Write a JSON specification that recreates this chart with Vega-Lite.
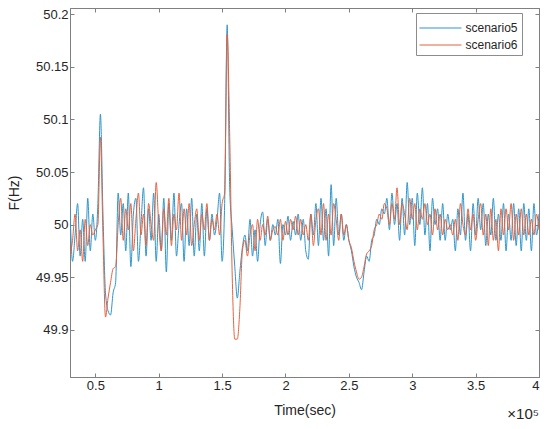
{
  "$schema": "https://vega.github.io/schema/vega-lite/v6.json",
  "width": 469,
  "height": 369,
  "autosize": "none",
  "padding": {"left": 70, "top": 8, "right": 11, "bottom": 52},
  "background": "white",
  "data": {
    "values": [
      {"time": 30000, "scenario5": 50.015, "scenario6": 49.97},
      {"time": 32000, "scenario5": 49.965, "scenario6": 49.985},
      {"time": 34000, "scenario5": 49.99, "scenario6": 50.01},
      {"time": 36000, "scenario5": 50.02, "scenario6": 49.975},
      {"time": 38000, "scenario5": 49.97, "scenario6": 49.995},
      {"time": 40000, "scenario5": 50.005, "scenario6": 49.965},
      {"time": 42000, "scenario5": 49.965, "scenario6": 50.005},
      {"time": 44000, "scenario5": 50.025, "scenario6": 49.98},
      {"time": 46000, "scenario5": 49.975, "scenario6": 50.0},
      {"time": 48000, "scenario5": 50.01, "scenario6": 49.99},
      {"time": 50000, "scenario5": 49.985, "scenario6": 49.995},
      {"time": 52000, "scenario5": 50.02, "scenario6": 50.0},
      {"time": 54000, "scenario5": 50.105, "scenario6": 50.083},
      {"time": 56000, "scenario5": 50.01, "scenario6": 49.99},
      {"time": 58000, "scenario5": 49.935, "scenario6": 49.912},
      {"time": 60000, "scenario5": 49.918, "scenario6": 49.93},
      {"time": 62000, "scenario5": 49.914, "scenario6": 49.945},
      {"time": 64000, "scenario5": 49.935, "scenario6": 49.958},
      {"time": 66000, "scenario5": 49.945, "scenario6": 49.96},
      {"time": 68000, "scenario5": 50.03, "scenario6": 50.0},
      {"time": 70000, "scenario5": 49.99, "scenario6": 50.025},
      {"time": 72000, "scenario5": 50.02, "scenario6": 49.985},
      {"time": 74000, "scenario5": 49.975, "scenario6": 50.015},
      {"time": 76000, "scenario5": 50.03, "scenario6": 49.995},
      {"time": 78000, "scenario5": 49.96, "scenario6": 50.02},
      {"time": 80000, "scenario5": 50.01, "scenario6": 49.975},
      {"time": 82000, "scenario5": 50.025, "scenario6": 50.005},
      {"time": 84000, "scenario5": 49.965, "scenario6": 50.03},
      {"time": 86000, "scenario5": 50.0, "scenario6": 49.99},
      {"time": 88000, "scenario5": 50.035, "scenario6": 50.01},
      {"time": 90000, "scenario5": 49.97, "scenario6": 49.98},
      {"time": 92000, "scenario5": 50.015, "scenario6": 50.02},
      {"time": 94000, "scenario5": 49.985, "scenario6": 50.0},
      {"time": 96000, "scenario5": 50.03, "scenario6": 49.985},
      {"time": 98000, "scenario5": 49.965, "scenario6": 50.04},
      {"time": 100000, "scenario5": 50.01, "scenario6": 50.0},
      {"time": 102000, "scenario5": 49.975, "scenario6": 49.975},
      {"time": 104000, "scenario5": 50.025, "scenario6": 50.015},
      {"time": 106000, "scenario5": 49.955, "scenario6": 49.99},
      {"time": 108000, "scenario5": 50.02, "scenario6": 50.025},
      {"time": 110000, "scenario5": 49.985, "scenario6": 49.98},
      {"time": 112000, "scenario5": 50.03, "scenario6": 50.01},
      {"time": 114000, "scenario5": 49.97, "scenario6": 49.995},
      {"time": 116000, "scenario5": 50.0, "scenario6": 50.03},
      {"time": 118000, "scenario5": 50.02, "scenario6": 49.985},
      {"time": 120000, "scenario5": 49.965, "scenario6": 50.015},
      {"time": 122000, "scenario5": 50.015, "scenario6": 49.99},
      {"time": 124000, "scenario5": 49.98, "scenario6": 50.02},
      {"time": 126000, "scenario5": 50.025, "scenario6": 49.98},
      {"time": 128000, "scenario5": 49.97, "scenario6": 50.0},
      {"time": 130000, "scenario5": 50.01, "scenario6": 50.015},
      {"time": 132000, "scenario5": 49.975, "scenario6": 49.985},
      {"time": 134000, "scenario5": 50.02, "scenario6": 50.01},
      {"time": 136000, "scenario5": 49.97, "scenario6": 49.995},
      {"time": 138000, "scenario5": 50.015, "scenario6": 50.02},
      {"time": 140000, "scenario5": 49.985, "scenario6": 49.985},
      {"time": 142000, "scenario5": 50.01, "scenario6": 50.005},
      {"time": 144000, "scenario5": 49.99, "scenario6": 49.995},
      {"time": 146000, "scenario5": 50.005, "scenario6": 50.01},
      {"time": 148000, "scenario5": 50.03, "scenario6": 49.99},
      {"time": 150000, "scenario5": 49.965, "scenario6": 50.02},
      {"time": 152000, "scenario5": 50.02, "scenario6": 50.03},
      {"time": 154000, "scenario5": 50.19, "scenario6": 50.181},
      {"time": 156000, "scenario5": 50.035, "scenario6": 50.084},
      {"time": 158000, "scenario5": 49.995, "scenario6": 49.95},
      {"time": 160000, "scenario5": 49.96, "scenario6": 49.891},
      {"time": 162000, "scenario5": 49.93, "scenario6": 49.891},
      {"time": 164000, "scenario5": 49.955, "scenario6": 49.92},
      {"time": 166000, "scenario5": 49.978, "scenario6": 49.975},
      {"time": 168000, "scenario5": 49.99, "scenario6": 49.985},
      {"time": 170000, "scenario5": 49.975, "scenario6": 49.97},
      {"time": 172000, "scenario5": 50.005, "scenario6": 49.99},
      {"time": 174000, "scenario5": 49.97, "scenario6": 50.0},
      {"time": 176000, "scenario5": 49.995, "scenario6": 49.975},
      {"time": 178000, "scenario5": 49.965, "scenario6": 50.005},
      {"time": 180000, "scenario5": 50.0, "scenario6": 49.985},
      {"time": 182000, "scenario5": 50.012, "scenario6": 50.0},
      {"time": 184000, "scenario5": 49.98, "scenario6": 49.99},
      {"time": 186000, "scenario5": 50.005, "scenario6": 50.008},
      {"time": 188000, "scenario5": 49.985, "scenario6": 49.985},
      {"time": 190000, "scenario5": 50.0, "scenario6": 49.995},
      {"time": 192000, "scenario5": 49.99, "scenario6": 49.998},
      {"time": 194000, "scenario5": 50.005, "scenario6": 49.99},
      {"time": 196000, "scenario5": 49.963, "scenario6": 50.005},
      {"time": 198000, "scenario5": 50.0, "scenario6": 49.985},
      {"time": 200000, "scenario5": 49.99, "scenario6": 50.003},
      {"time": 202000, "scenario5": 50.008, "scenario6": 49.99},
      {"time": 204000, "scenario5": 49.985, "scenario6": 50.005},
      {"time": 206000, "scenario5": 50.003, "scenario6": 49.995},
      {"time": 208000, "scenario5": 49.99, "scenario6": 50.008},
      {"time": 210000, "scenario5": 50.01, "scenario6": 49.99},
      {"time": 212000, "scenario5": 49.985, "scenario6": 50.005},
      {"time": 214000, "scenario5": 50.005, "scenario6": 49.99},
      {"time": 216000, "scenario5": 49.975, "scenario6": 50.0},
      {"time": 218000, "scenario5": 49.967, "scenario6": 49.985},
      {"time": 220000, "scenario5": 50.01, "scenario6": 50.01},
      {"time": 222000, "scenario5": 49.99, "scenario6": 49.98},
      {"time": 224000, "scenario5": 50.02, "scenario6": 50.005},
      {"time": 226000, "scenario5": 49.98, "scenario6": 50.015},
      {"time": 228000, "scenario5": 50.025, "scenario6": 49.99},
      {"time": 230000, "scenario5": 49.985, "scenario6": 50.02},
      {"time": 232000, "scenario5": 50.015, "scenario6": 49.985},
      {"time": 234000, "scenario5": 49.97, "scenario6": 50.01},
      {"time": 236000, "scenario5": 50.038, "scenario6": 49.99},
      {"time": 238000, "scenario5": 49.98, "scenario6": 50.02},
      {"time": 240000, "scenario5": 50.025, "scenario6": 50.005},
      {"time": 242000, "scenario5": 49.99, "scenario6": 49.985},
      {"time": 244000, "scenario5": 50.01, "scenario6": 50.01},
      {"time": 246000, "scenario5": 49.985, "scenario6": 49.99},
      {"time": 248000, "scenario5": 50.0, "scenario6": 50.0},
      {"time": 250000, "scenario5": 49.985, "scenario6": 49.985},
      {"time": 252000, "scenario5": 49.975, "scenario6": 49.978},
      {"time": 254000, "scenario5": 49.96, "scenario6": 49.965},
      {"time": 256000, "scenario5": 49.95, "scenario6": 49.955},
      {"time": 258000, "scenario5": 49.945, "scenario6": 49.948},
      {"time": 260000, "scenario5": 49.938, "scenario6": 49.95},
      {"time": 262000, "scenario5": 49.955, "scenario6": 49.96},
      {"time": 264000, "scenario5": 49.97, "scenario6": 49.972},
      {"time": 266000, "scenario5": 49.965, "scenario6": 49.975},
      {"time": 268000, "scenario5": 49.985, "scenario6": 49.98},
      {"time": 270000, "scenario5": 49.99, "scenario6": 49.995},
      {"time": 272000, "scenario5": 50.005, "scenario6": 50.0},
      {"time": 274000, "scenario5": 50.0, "scenario6": 50.01},
      {"time": 276000, "scenario5": 50.015, "scenario6": 50.005},
      {"time": 278000, "scenario5": 50.01, "scenario6": 50.02},
      {"time": 280000, "scenario5": 50.025, "scenario6": 50.015},
      {"time": 282000, "scenario5": 49.995, "scenario6": 50.0},
      {"time": 284000, "scenario5": 50.03, "scenario6": 50.02},
      {"time": 286000, "scenario5": 50.0, "scenario6": 50.005},
      {"time": 288000, "scenario5": 50.02, "scenario6": 50.035},
      {"time": 290000, "scenario5": 49.985, "scenario6": 50.0},
      {"time": 292000, "scenario5": 50.025, "scenario6": 50.02},
      {"time": 294000, "scenario5": 49.99, "scenario6": 50.01},
      {"time": 296000, "scenario5": 50.04, "scenario6": 49.995},
      {"time": 298000, "scenario5": 50.0, "scenario6": 50.025},
      {"time": 300000, "scenario5": 50.025, "scenario6": 50.005},
      {"time": 302000, "scenario5": 49.98, "scenario6": 50.02},
      {"time": 304000, "scenario5": 50.03, "scenario6": 49.995},
      {"time": 306000, "scenario5": 50.0, "scenario6": 50.015},
      {"time": 308000, "scenario5": 50.035, "scenario6": 50.005},
      {"time": 310000, "scenario5": 49.99, "scenario6": 50.02},
      {"time": 312000, "scenario5": 50.02, "scenario6": 50.0},
      {"time": 314000, "scenario5": 49.975, "scenario6": 50.01},
      {"time": 316000, "scenario5": 50.025, "scenario6": 49.99},
      {"time": 318000, "scenario5": 50.0, "scenario6": 50.015},
      {"time": 320000, "scenario5": 50.015, "scenario6": 49.995},
      {"time": 322000, "scenario5": 49.985, "scenario6": 50.01},
      {"time": 324000, "scenario5": 50.02, "scenario6": 49.99},
      {"time": 326000, "scenario5": 49.985, "scenario6": 50.005},
      {"time": 328000, "scenario5": 50.01, "scenario6": 49.995},
      {"time": 330000, "scenario5": 49.995, "scenario6": 50.0},
      {"time": 332000, "scenario5": 50.005, "scenario6": 49.99},
      {"time": 334000, "scenario5": 49.975, "scenario6": 50.005},
      {"time": 336000, "scenario5": 50.015, "scenario6": 49.985},
      {"time": 338000, "scenario5": 49.99, "scenario6": 50.02},
      {"time": 340000, "scenario5": 50.03, "scenario6": 50.0},
      {"time": 342000, "scenario5": 49.985, "scenario6": 49.99},
      {"time": 344000, "scenario5": 50.01, "scenario6": 50.015},
      {"time": 346000, "scenario5": 49.975, "scenario6": 49.995},
      {"time": 348000, "scenario5": 50.02, "scenario6": 50.01},
      {"time": 350000, "scenario5": 49.99, "scenario6": 49.985},
      {"time": 352000, "scenario5": 50.025, "scenario6": 50.005},
      {"time": 354000, "scenario5": 49.995, "scenario6": 50.02},
      {"time": 356000, "scenario5": 50.02, "scenario6": 49.99},
      {"time": 358000, "scenario5": 49.98, "scenario6": 50.01},
      {"time": 360000, "scenario5": 50.01, "scenario6": 49.98},
      {"time": 362000, "scenario5": 49.99, "scenario6": 50.015},
      {"time": 364000, "scenario5": 50.025, "scenario6": 49.985},
      {"time": 366000, "scenario5": 49.985, "scenario6": 50.005},
      {"time": 368000, "scenario5": 50.01, "scenario6": 49.975},
      {"time": 370000, "scenario5": 49.985, "scenario6": 50.015},
      {"time": 372000, "scenario5": 50.02, "scenario6": 49.99},
      {"time": 374000, "scenario5": 49.975, "scenario6": 50.015},
      {"time": 376000, "scenario5": 50.01, "scenario6": 49.995},
      {"time": 378000, "scenario5": 49.985, "scenario6": 50.02},
      {"time": 380000, "scenario5": 50.02, "scenario6": 49.985},
      {"time": 382000, "scenario5": 49.98, "scenario6": 50.01},
      {"time": 384000, "scenario5": 50.015, "scenario6": 49.99},
      {"time": 386000, "scenario5": 49.975, "scenario6": 50.015},
      {"time": 388000, "scenario5": 50.02, "scenario6": 49.99},
      {"time": 390000, "scenario5": 49.985, "scenario6": 50.01},
      {"time": 392000, "scenario5": 50.015, "scenario6": 49.99},
      {"time": 394000, "scenario5": 49.975, "scenario6": 50.005},
      {"time": 396000, "scenario5": 50.02, "scenario6": 49.99},
      {"time": 398000, "scenario5": 49.99, "scenario6": 50.01},
      {"time": 400000, "scenario5": 50.01, "scenario6": 49.995}
    ]
  },
  "layer": [
    {
      "transform": [{"fold": ["scenario5", "scenario6"], "as": ["series", "F"]}],
      "mark": {"type": "line", "strokeWidth": 1, "clip": true, "interpolate": "monotone"},
      "encoding": {
        "x": {
          "field": "time",
          "type": "quantitative",
          "scale": {"domain": [30000, 400000], "nice": false, "zero": false},
          "axis": {
            "values": [50000, 100000, 150000, 200000, 250000, 300000, 350000, 400000],
            "labelExpr": "format(datum.value / 100000, '~g')",
            "title": "Time(sec)",
            "titlePadding": 11
          }
        },
        "y": {
          "field": "F",
          "type": "quantitative",
          "scale": {"domain": [49.855, 50.206], "nice": false, "zero": false},
          "axis": {
            "values": [49.9, 49.95, 50, 50.05, 50.1, 50.15, 50.2],
            "format": "~f",
            "title": "F(Hz)",
            "titlePadding": 14
          }
        },
        "color": {
          "field": "series",
          "type": "nominal",
          "scale": {"domain": ["scenario5", "scenario6"], "range": ["#2E96CB", "#E4633F"]},
          "legend": {
            "title": null,
            "orient": "none",
            "legendX": 346,
            "legendY": 5,
            "symbolType": "M-2,0H2",
            "symbolSize": 441,
            "symbolStrokeWidth": 1,
            "symbolOffset": 9.5,
            "labelOffset": 14,
            "fillColor": "white",
            "strokeColor": "#8c8c8c",
            "padding": 4,
            "rowPadding": -3,
            "labelFontSize": 12
          }
        }
      }
    },
    {
      "data": {"values": [{"label": "×10⁵"}]},
      "mark": {"type": "text", "align": "right", "baseline": "middle", "dy": 37, "fontSize": 15, "font": "Liberation Sans", "color": "#262626"},
      "encoding": {
        "x": {
          "datum": 400000,
          "type": "quantitative",
          "axis": {"orient": "top", "labels": false, "title": null, "values": [50000, 100000, 150000, 200000, 250000, 300000, 350000, 400000]}
        },
        "y": {
          "datum": 49.855,
          "type": "quantitative",
          "axis": {"orient": "right", "labels": false, "title": null, "values": [49.9, 49.95, 50, 50.05, 50.1, 50.15, 50.2]}
        },
        "text": {"field": "label"}
      }
    }
  ],
  "resolve": {"axis": {"x": "independent", "y": "independent"}},
  "config": {
    "view": {"stroke": "#808080", "strokeWidth": 1},
    "font": "Liberation Sans",
    "axis": {
      "grid": false,
      "domainColor": "#808080",
      "tickColor": "#808080",
      "tickSize": -4,
      "labelPadding": 6,
      "labelFont": "Liberation Sans",
      "labelFontSize": 13,
      "labelColor": "#262626",
      "titleFont": "Liberation Sans",
      "titleFontSize": 14,
      "titleFontWeight": "normal",
      "titleColor": "#262626"
    },
    "legend": {"labelFont": "Liberation Sans", "labelColor": "#262626"}
  }
}
